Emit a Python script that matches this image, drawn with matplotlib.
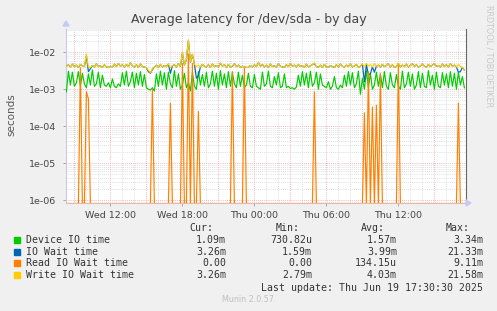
import numpy as np
import pandas as pd
import matplotlib
matplotlib.use("Agg")
import matplotlib.pyplot as plt
from matplotlib.ticker import FixedLocator, FuncFormatter

# ---------------- data (milliseconds, 10-minute samples) ----------------
start_time = "2025-06-18 08:20"
end_time = "2025-06-19 17:30"

device_io_ms = [
    0.85, 3.1, 1.3, 2.9, 1.2, 1.5, 3.0, 1.2, 2.7, 1.4,
    1.1, 2.6, 1.3, 3.34, 1.2, 1.4, 2.9, 1.1, 2.4, 1.3,
    1.2, 1.5, 1.1, 1.9, 1.2, 1.1, 1.4, 1.2, 2.8, 1.3,
    3.1, 1.2, 1.6, 2.9, 1.1, 2.7, 1.3, 3.0, 1.2, 2.5,
    1.1, 1.0, 0.95, 1.1, 0.9, 2.6, 1.2, 3.1, 1.3, 2.8,
    1.0, 2.9, 1.4, 1.1, 3.2, 1.2, 2.6, 1.0, 1.3, 2.7,
    1.1, 1.5, 0.9, 2.8, 1.2, 1.0, 3.0, 1.3, 2.5, 1.2,
    2.9, 1.1, 1.4, 3.1, 1.2, 2.7, 1.0, 3.2, 1.3, 2.6,
    1.1, 3.0, 1.2, 2.8, 1.4, 1.1, 2.9, 1.2, 2.4, 1.1,
    1.3, 2.7, 1.2, 1.1, 2.5, 1.2, 1.1, 1.0, 2.9, 1.2,
    1.4, 3.1, 1.2, 1.1, 2.2, 1.3, 2.8, 1.1, 1.2, 2.6,
    1.1, 1.2, 1.05, 1.1, 1.0, 1.15, 2.4, 1.2, 3.0, 1.3,
    2.7, 1.1, 3.1, 1.2, 1.5, 2.9, 1.0, 2.6, 1.3, 1.2,
    1.1, 1.6, 1.0, 1.2, 2.2, 1.1, 1.0, 1.3, 1.1, 2.4,
    1.2, 3.0, 1.3, 2.8, 1.1, 1.4, 3.1, 0.73, 2.0, 1.0,
    3.2, 1.1, 2.7, 1.0, 1.3, 2.9, 1.2, 2.6, 1.1, 3.0,
    1.2, 1.0, 2.8, 1.3, 1.1, 2.5, 1.2, 1.0, 3.1, 1.1,
    1.4, 2.9, 1.2, 2.6, 1.0, 1.3, 3.0, 1.1, 2.7, 1.2,
    1.1, 3.2, 1.3, 2.4, 1.0, 2.9, 1.2, 1.1, 2.8, 1.3,
    2.6, 1.1, 3.0, 1.2, 2.7, 1.0, 2.9, 1.3, 2.2, 1.09,
]

io_wait_ms = [
    4.2, 4.6, 4.0, 4.8, 4.1, 4.5, 3.9, 4.7, 4.3, 4.1,
    8.0, 3.0, 3.6, 4.4, 4.0, 4.9, 4.1, 4.3, 3.9, 4.6,
    4.0, 3.9, 4.2, 4.0, 4.8, 4.1, 5.0, 4.2, 4.6, 4.0,
    4.7, 4.1, 5.2, 4.3, 4.0, 4.6, 3.9, 4.8, 4.1, 4.0,
    3.8, 3.0, 2.7, 3.4, 4.0, 4.5, 3.9, 4.7, 4.0, 4.4,
    4.1, 4.8, 2.7, 4.3, 4.6, 4.0, 4.9, 4.2, 9.5, 4.5,
    6.3, 21.33, 5.4, 8.8, 4.8, 2.0, 2.3, 4.0, 4.7, 4.2,
    4.0, 4.6, 3.9, 4.8, 4.1, 4.4, 4.0, 5.1, 4.2, 4.6,
    3.9, 4.7, 4.0, 4.2, 4.9, 4.1, 4.5, 3.9, 4.2, 4.0,
    3.9, 3.9, 4.4, 4.0, 4.6, 4.1, 5.3, 4.2, 4.7, 4.0,
    4.5, 3.9, 4.8, 4.1, 4.3, 4.0, 4.9, 4.2, 4.0, 3.9,
    4.6, 4.1, 5.0, 4.2, 4.5, 4.0, 4.7, 4.1, 4.4, 3.9,
    4.8, 4.0, 4.3, 4.6, 5.0, 4.1, 4.0, 4.5, 3.9, 4.7,
    4.0, 3.9, 4.4, 4.1, 3.9, 4.6, 4.0, 4.8, 4.2, 4.0,
    4.5, 4.1, 4.9, 4.0, 4.3, 4.7, 3.9, 4.2, 4.8, 1.59,
    4.6, 2.5, 2.6, 4.0, 2.9, 4.2, 4.5, 4.0, 4.7, 4.1,
    4.4, 4.9, 4.0, 4.6, 3.9, 4.2, 5.0, 4.0, 4.5, 4.1,
    4.8, 4.0, 4.4, 4.9, 4.1, 4.6, 4.0, 4.3, 4.8, 4.2,
    4.0, 4.7, 4.1, 4.5, 5.0, 4.2, 4.4, 4.0, 4.8, 4.1,
    4.6, 4.0, 4.9, 4.2, 4.5, 4.0, 2.9, 3.0, 3.9, 3.26,
]

read_wait_ms = [
    0, 0, 0, 0, 0, 0, 0, 3.8, 0, 0,
    0.85, 0.55, 0, 0, 0, 0, 0, 0, 0, 0,
    0, 0, 0, 0, 0, 0, 0, 0, 0, 0,
    0, 0, 0, 0, 0, 0, 0, 0, 0, 0,
    0, 0, 0, 1.0, 0, 0, 0, 0, 0, 0,
    0, 0, 0.42, 0, 0, 0, 0, 0, 5.0, 0,
    0, 9.11, 0, 5.0, 0, 0, 0.25, 0, 0, 0,
    0, 0, 0, 0, 0, 0, 0, 0, 0, 0,
    0, 0, 0, 3.0, 0, 0, 0, 0, 0, 4.0,
    0, 0, 0, 0, 0, 0, 0, 0, 0, 0,
    0, 0, 0, 0, 0, 0, 0, 0, 0, 0,
    0, 0, 0, 0, 0, 0, 0, 0, 0, 0,
    0, 0, 0, 0, 0.85, 0, 0, 0, 0, 0,
    0, 0, 0, 0, 0, 0, 0, 0, 0, 0,
    0, 0, 0, 0, 0, 0, 0, 0, 0, 0.23,
    0, 3.0, 0, 0.33, 0, 0.37, 0, 2.7, 0, 0,
    0, 0, 0, 0, 0, 0, 5.0, 0, 0, 0,
    0, 0, 0, 0, 0, 0, 0, 0, 0, 0,
    0, 0, 0, 0, 0, 0, 0, 0, 0, 0,
    0, 0, 0, 0, 0, 0, 0.42, 0, 0, 0,
]

write_wait_ms = [
    4.2, 4.6, 4.0, 4.8, 4.1, 4.5, 3.9, 4.7, 4.3, 4.1,
    8.8, 4.0, 3.9, 4.4, 4.0, 4.9, 4.1, 4.3, 3.9, 4.6,
    4.0, 3.9, 4.2, 4.0, 4.8, 4.1, 5.0, 4.2, 4.6, 4.0,
    4.7, 4.1, 5.2, 4.3, 4.0, 4.6, 3.9, 4.8, 4.1, 4.0,
    3.8, 3.3, 2.79, 3.6, 4.0, 4.5, 3.9, 4.7, 4.0, 4.4,
    4.1, 4.8, 3.9, 4.3, 4.6, 4.0, 4.9, 4.2, 10.0, 4.5,
    6.5, 21.58, 5.5, 9.0, 4.8, 4.1, 4.5, 4.0, 4.7, 4.2,
    4.0, 4.6, 3.9, 4.8, 4.1, 4.4, 4.0, 5.1, 4.2, 4.6,
    3.9, 4.7, 4.0, 4.3, 4.9, 4.1, 4.5, 3.9, 4.2, 4.0,
    3.9, 3.9, 4.4, 4.0, 4.6, 4.1, 5.3, 4.2, 4.7, 4.0,
    4.5, 3.9, 4.8, 4.1, 4.3, 4.0, 4.9, 4.2, 4.0, 3.9,
    4.6, 4.1, 5.0, 4.2, 4.5, 4.0, 4.7, 4.1, 4.4, 3.9,
    4.8, 4.0, 4.3, 4.6, 5.2, 4.1, 4.0, 4.5, 3.9, 4.7,
    4.0, 3.9, 4.4, 4.1, 3.9, 4.6, 4.0, 4.8, 4.2, 4.0,
    4.5, 4.1, 4.9, 4.0, 4.3, 4.7, 3.9, 4.2, 4.8, 4.1,
    5.0, 4.3, 4.6, 4.0, 4.9, 4.2, 4.5, 4.0, 4.7, 4.1,
    4.4, 4.9, 4.0, 4.6, 3.9, 4.2, 5.1, 4.0, 4.5, 4.1,
    4.8, 4.0, 4.4, 4.9, 4.1, 4.6, 4.0, 4.3, 4.8, 4.2,
    4.0, 4.7, 4.1, 4.5, 5.0, 4.2, 4.4, 4.0, 4.8, 4.1,
    4.6, 4.0, 4.9, 4.2, 4.5, 4.0, 4.7, 4.1, 3.9, 3.26,
]

series_names = ["Device IO time", "IO Wait time", "Read IO Wait time", "Write IO Wait time"]
series_colors = ["#00CC00", "#0066B3", "#FF8000", "#FFCC00"]
legend_cur = ["1.09m", "3.26m", "0.00", "3.26m"]
legend_min = ["730.82u", "1.59m", "0.00", "2.79m"]
legend_avg = ["1.57m", "3.99m", "134.15u", "4.03m"]
legend_max = ["3.34m", "21.33m", "9.11m", "21.58m"]

x_tick_times = ["2025-06-18 12:00", "2025-06-18 18:00", "2025-06-19 00:00",
                "2025-06-19 06:00", "2025-06-19 12:00"]
x_tick_labels = ["Wed 12:00", "Wed 18:00", "Thu 00:00", "Thu 06:00", "Thu 12:00"]

# ---------------- figure ----------------
W, H = 497, 311
fig = plt.figure(figsize=(W / 100, H / 100), dpi=100, facecolor="#F0F0F0")


def fx(x):
    return x / W


def fy(y):
    return 1 - y / H


ax_left, ax_right, ax_top, ax_bottom = 66, 466, 29.5, 203
ax = fig.add_axes([fx(ax_left), fy(ax_bottom), (ax_right - ax_left) / W, (ax_bottom - ax_top) / H])
ax.set_facecolor("white")

times = pd.date_range(start_time, end_time, freq="10min")
ymin, ymax = 8.3e-7, 4.15e-2
ax.set_yscale("log")
ax.set_ylim(ymin, ymax)
ax.set_xlim(pd.Timestamp("2025-06-18 08:18"), pd.Timestamp("2025-06-19 17:38"))

# grid lines
grid_minor = dict(color="#D4D4D4", lw=0.6, ls=(0, (1, 1.5)), zorder=0)
grid_major = dict(color="#F0A0A0", lw=0.6, ls=(0, (1, 1.5)), zorder=0.5)
for t in pd.date_range("2025-06-18 09:00", "2025-06-19 17:00", freq="1h"):
    ax.axvline(t, **(grid_major if t.hour % 3 == 0 else grid_minor))
for e in range(-7, -1):
    for m in range(2, 10):
        v = m * 10.0 ** e
        if ymin < v < ymax:
            ax.axhline(v, **grid_minor)
for e in range(-6, -1):
    ax.axhline(10.0 ** e, **grid_major)

# zero values are drawn at the bottom edge of the log axis
floor = ymin * 0.9
data = [device_io_ms, io_wait_ms, read_wait_ms, write_wait_ms]
for vals, col in zip(data, series_colors):
    arr = np.array(vals, dtype=float) * 1e-3
    arr = np.where(arr <= 0, floor, arr)
    ax.plot(times, arr, color=col, lw=0.85, zorder=3)

# axes styling
ax.yaxis.set_major_locator(FixedLocator([1e-6, 1e-5, 1e-4, 1e-3, 1e-2]))
ax.yaxis.set_minor_locator(FixedLocator([]))
ax.yaxis.set_major_formatter(FuncFormatter(lambda v, p: "1e-%02d" % round(-np.log10(v))))
ax.set_xticks(pd.to_datetime(x_tick_times))
ax.set_xticklabels(x_tick_labels)
ax.xaxis.set_minor_locator(FixedLocator([]))
ax.tick_params(axis="both", labelsize=6.8, colors="#999999", length=2, width=0.6, pad=4)
ax.tick_params(axis="y", pad=5)
for lab in ax.get_xticklabels() + ax.get_yticklabels():
    lab.set_color("#444444")
ax.spines["top"].set_visible(False)
ax.spines["left"].set_color("#C8C8E8")
ax.spines["bottom"].set_color("#F0B8A0")
ax.spines["right"].set_color("#666666")
for s in ax.spines.values():
    s.set_linewidth(0.8)

# axis arrows
fig.patches.append(plt.Polygon([[fx(63), fy(26)], [fx(69), fy(26)], [fx(66), fy(21)]],
                               closed=True, color="#C8C8F8", transform=fig.transFigure))
fig.patches.append(plt.Polygon([[fx(466), fy(200)], [fx(466), fy(206)], [fx(471), fy(203)]],
                               closed=True, color="#C8C8F8", transform=fig.transFigure))

fig.text(fx(11), fy(115), "seconds", rotation=90, ha="center", va="center", fontsize=7.5, color="#555555")
fig.text(fx(248.5), fy(20), "Average latency for /dev/sda - by day", ha="center", va="center",
         fontsize=9, color="#444444")
fig.text(fx(489), fy(5), "RRDTOOL / TOBI OETIKER", rotation=-90, ha="center", va="top",
         fontsize=5.8, color="#C8C8C8")

# legend
mono = "DejaVu Sans Mono"
lfs = 7.1
tc = "#333333"
row_y = [240, 251.7, 263.3, 275.3]
col_right = [226, 312, 397, 483]
hdr_right = [213.5, 300, 384.5, 470]
for hx, h in zip(hdr_right, ["Cur:", "Min:", "Avg:", "Max:"]):
    fig.text(fx(hx), fy(228), h, ha="right", va="center", fontsize=lfs, family=mono, color=tc)
for i, name in enumerate(series_names):
    y = row_y[i]
    fig.patches.append(plt.Rectangle((fx(14), fy(y + 3)), 6 / W, 6 / H, color=series_colors[i],
                                     transform=fig.transFigure))
    fig.text(fx(26), fy(y), name, ha="left", va="center", fontsize=lfs, family=mono, color=tc)
    for cx, vals in zip(col_right, [legend_cur, legend_min, legend_avg, legend_max]):
        fig.text(fx(cx), fy(y), vals[i], ha="right", va="center", fontsize=lfs, family=mono, color=tc)
fig.text(fx(483), fy(288), "Last update: Thu Jun 19 17:30:30 2025", ha="right", va="center",
         fontsize=lfs, family=mono, color=tc)
fig.text(fx(248), fy(300), "Munin 2.0.57", ha="center", va="center", fontsize=5.8, color="#C0C0C0")

fig.savefig("out.png", dpi=100, facecolor=fig.get_facecolor())
